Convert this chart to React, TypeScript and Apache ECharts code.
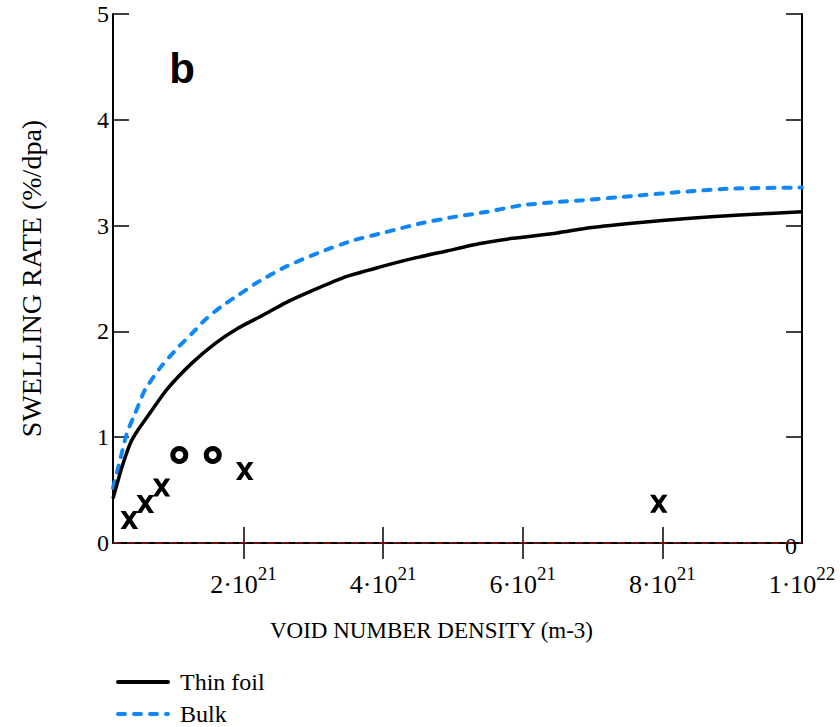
import React, { useEffect, useRef } from "react";
import * as echarts from "echarts";

// x values are in units of 1e21 m^-3
const thinFoilX = [0.13, 0.26, 0.38, 0.49, 0.66, 0.9, 1.26, 1.6, 1.92, 2.27, 2.6, 3.0, 3.48, 3.96, 4.43, 4.91, 5.39, 5.86, 6.49, 6.96, 7.68, 8.4, 9.11, 10.0];
const thinFoilY = [0.42, 0.72, 0.945, 1.07, 1.23, 1.45, 1.7, 1.89, 2.03, 2.15, 2.27, 2.39, 2.52, 2.61, 2.69, 2.76, 2.83, 2.88, 2.93, 2.98, 3.03, 3.07, 3.1, 3.13];

const bulkX = [0.13, 0.23, 0.33, 0.45, 0.59, 0.81, 1.05, 1.26, 1.45, 1.67, 1.92, 2.19, 2.6, 3.1, 3.57, 4.05, 4.53, 5.0, 5.49, 5.96, 6.43, 6.86, 7.58, 8.3, 9.01, 10.0];
const bulkY = [0.52, 0.78, 1.04, 1.23, 1.45, 1.66, 1.84, 1.98, 2.11, 2.23, 2.34, 2.46, 2.61, 2.75, 2.86, 2.94, 3.02, 3.08, 3.13, 3.19, 3.22, 3.24, 3.28, 3.32, 3.35, 3.36];

// measured points: "x" marks and "o" marks
const crossX = [0.364, 0.593, 0.826, 2.017, 7.948];
const crossY = [0.217, 0.369, 0.524, 0.68, 0.371];
const circleX = [1.08, 1.559];
const circleY = [0.832, 0.832];

const xTicks = [2, 4, 6, 8, 10];
const xTickMantissa = ["2", "4", "6", "8", "1"];
const xTickExponent = ["21", "21", "21", "21", "22"];

const X_MIN = 0.13;
const X_MAX = 10;

const SERIF = "'Liberation Serif', 'Times New Roman', serif";
const SANS = "'Liberation Sans', Arial, sans-serif";

const CROSS_PATH = "path://M0,0 L29,0 L50,31 L71,0 L100,0 L65,49 L100,100 L71,100 L50,68 L29,100 L0,100 L35,49 Z";

export default function App() {
  const ref = useRef<HTMLDivElement>(null);

  useEffect(() => {
    if (!ref.current) return;
    const chart = echarts.init(ref.current, undefined, { renderer: "svg" });

    const axisLine = { show: true, lineStyle: { color: "#000", width: 2 } };
    const tick = { show: true, inside: true, length: 16, lineStyle: { color: "#000", width: 1.5 } };

    chart.setOption({
      animation: false,
      backgroundColor: "#fff",
      grid: { left: 113, right: 38, top: 14, bottom: 184 },
      xAxis: [
        {
          type: "value",
          position: "bottom",
          min: X_MIN,
          max: X_MAX,
          axisLine,
          axisTick: { ...tick, customValues: xTicks },
          splitLine: { show: false },
          axisLabel: {
            customValues: xTicks,
            margin: 28,
            fontFamily: SERIF,
            fontSize: 26,
            color: "#000",
            formatter: (v: number) => {
              const i = xTicks.indexOf(Math.round(v));
              if (i < 0) return "";
              return `{m|${xTickMantissa[i]}·10}{s|${xTickExponent[i]}}`;
            },
            rich: {
              m: { fontFamily: SERIF, fontSize: 26, color: "#000", lineHeight: 26 },
              s: { fontFamily: SERIF, fontSize: 19, color: "#000", lineHeight: 19, padding: [0, 0, 22, 0] },
            },
          },
          name: "VOID NUMBER DENSITY (m-3)",
          nameLocation: "middle",
          nameGap: 76,
          nameTextStyle: { fontFamily: SERIF, fontSize: 23, color: "#000", padding: [0, 52, 0, 0] },
        },
        {
          type: "value",
          position: "top",
          min: X_MIN,
          max: X_MAX,
          axisLine,
          axisTick: { ...tick, customValues: [2, 4, 6, 8] },
          axisLabel: { show: false },
          splitLine: { show: false },
        },
      ],
      yAxis: [
        {
          type: "value",
          position: "left",
          min: 0,
          max: 5,
          interval: 1,
          axisLine,
          axisTick: tick,
          splitLine: { show: false },
          axisLabel: { fontFamily: SERIF, fontSize: 24, color: "#000", margin: 4 },
          name: "SWELLING RATE (%/dpa)",
          nameLocation: "middle",
          nameGap: 68,
          nameTextStyle: { fontFamily: SERIF, fontSize: 28, color: "#000" },
        },
        {
          type: "value",
          position: "right",
          min: 0,
          max: 5,
          interval: 1,
          axisLine,
          axisTick: tick,
          axisLabel: { show: false },
          splitLine: { show: false },
        },
      ],
      series: [
        {
          name: "zero",
          type: "line",
          data: [[X_MIN, 0], [X_MAX, 0]],
          showSymbol: false,
          lineStyle: { color: "#a31515", width: 1.5, type: [8, 6] },
          z: 5,
        },
        {
          name: "Bulk",
          type: "line",
          data: bulkX.map((x, i) => [x, bulkY[i]]),
          showSymbol: false,
          smooth: 0.2,
          lineStyle: { color: "#0f87f7", width: 4, type: [7, 9], cap: "round" },
        },
        {
          name: "Thin foil",
          type: "line",
          data: thinFoilX.map((x, i) => [x, thinFoilY[i]]),
          showSymbol: false,
          smooth: 0.2,
          lineStyle: { color: "#000", width: 3.5 },
        },
        {
          name: "x data",
          type: "scatter",
          data: crossX.map((x, i) => [x, crossY[i]]),
          symbol: CROSS_PATH,
          symbolSize: [17.5, 18],
          itemStyle: { color: "#000", opacity: 1 },
          z: 6,
        },
        {
          name: "o data",
          type: "scatter",
          data: circleX.map((x, i) => [x, circleY[i]]),
          symbol: "circle",
          symbolSize: 13,
          itemStyle: { color: "transparent", borderColor: "#000", borderWidth: 5, opacity: 1 },
          z: 6,
        },
      ],
      graphic: [
        {
          type: "text",
          x: 182,
          y: 68,
          style: { text: "b", fontFamily: SANS, fontWeight: "bold", fontSize: 42, fill: "#000", align: "center", verticalAlign: "middle" },
        },
        {
          type: "text",
          x: 791,
          y: 546,
          style: { text: "0", fontFamily: SERIF, fontSize: 24, fill: "#000", align: "center", verticalAlign: "middle" },
        },
        {
          type: "line",
          shape: { x1: 118, y1: 682, x2: 168, y2: 682 },
          style: { stroke: "#000", lineWidth: 4, lineCap: "round" },
        },
        {
          type: "text",
          x: 180,
          y: 682,
          style: { text: "Thin foil", fontFamily: SERIF, fontSize: 24, fill: "#000", align: "left", verticalAlign: "middle" },
        },
        {
          type: "line",
          shape: { x1: 118, y1: 714, x2: 168, y2: 714 },
          style: { stroke: "#0f87f7", lineWidth: 4, lineCap: "round", lineDash: [7, 9] },
        },
        {
          type: "text",
          x: 180,
          y: 714,
          style: { text: "Bulk", fontFamily: SERIF, fontSize: 24, fill: "#000", align: "left", verticalAlign: "middle" },
        },
      ],
    });

    return () => chart.dispose();
  }, []);

  return <div ref={ref} style={{ position: "fixed", left: 0, top: 0, width: 840, height: 727 }} />;
}
